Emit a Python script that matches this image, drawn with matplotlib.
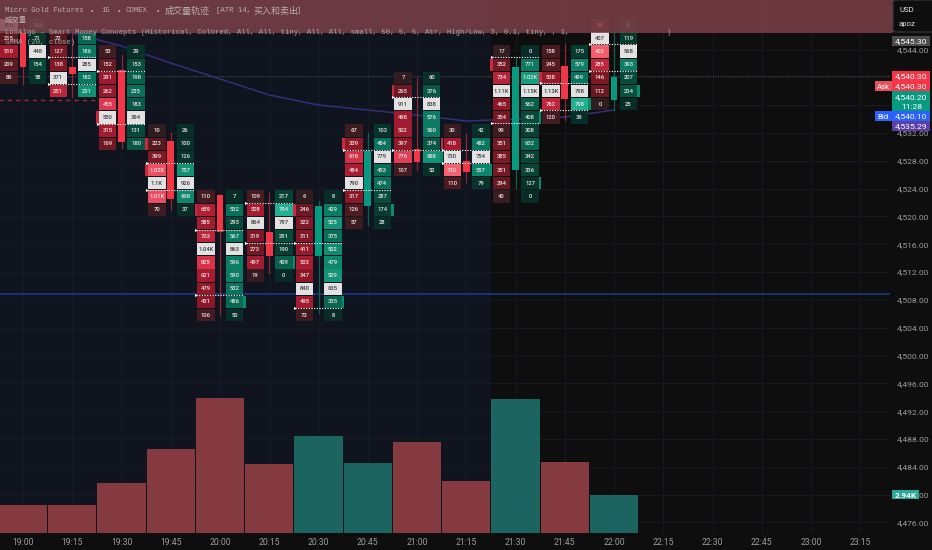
import matplotlib
matplotlib.use('Agg')
import matplotlib.pyplot as plt
from matplotlib.colors import LinearSegmentedColormap
from matplotlib.patches import Rectangle, FancyBboxPatch

# ---- data
times = ['19:00','19:15','19:30','19:45','20:00','20:15','20:30','20:45','21:00','21:15','21:30','21:45','22:00',
         '22:15','22:30','22:45','23:00','23:15']
opens  = [4546.37,4541.48,4541.05,4530.85,4523.08,4517.76,4514.31,4521.50,4529.70,4527.97,4526.68,4541.63,4536.74]
closes = [4541.48,4540.48,4530.70,4522.51,4517.76,4514.31,4521.50,4529.41,4527.83,4526.39,4541.48,4536.88,4540.05]
highs  = [4547.52,4546.52,4543.21,4532.00,4523.20,4523.37,4522.22,4532.00,4539.90,4531.85,4542.92,4544.79,4546.52]
lows   = [4539.04,4537.17,4529.84,4520.93,4505.83,4511.87,4506.12,4518.77,4526.68,4524.95,4524.09,4533.87,4535.30]
volumes = [2140,2160,3820,6420,10300,5270,7410,5350,6950,3970,10240,5420,2940]
sma_idx = [1,2,3,4,5,6,7,8,9,10,11,12]
sma_vals = [4546.37,4544.50,4542.06,4539.76,4537.46,4536.02,4535.30,4534.58,4533.72,4534.01,4534.30,4535.30]

# footprint rows, top to bottom, first_level = index of top row on the price ladder
first_level = [0,1,2,8,13,13,13,8,4,8,2,2,0]
sell_vals = [
    [906,215,510,209,89],
    [72,127,138,371,251],
    [53,152,291,262,455,550,315,169],
    [10,223,399,1020,1100,1010,70],
    [110,659,585,703,1040,825,621,479,431,106],
    [109,508,864,319,273,497,19],
    [6,246,322,311,411,503,347,840,495,73],
    [67,339,618,484,790,317,126,57],
    [7,265,911,498,502,397,776,107],
    [30,418,730,730,110],
    [17,352,734,1110,465,354,99,351,385,351,294,40],
    [158,245,538,1130,782,120],
    [58,407,402,285,146,112,0],
]
buy_vals = [
    [134,71,448,154,58],
    [158,186,285,182,231],
    [29,153,198,235,183,394,131,180],
    [26,100,126,757,926,698,37],
    [7,532,293,567,863,596,590,532,486,50],
    [217,794,797,291,190,409,0],
    [8,429,525,375,502,479,529,635,335,8],
    [103,484,779,453,474,287,174,28],
    [60,376,838,576,560,374,688,52],
    [42,482,754,557,79],
    [0,771,1020,1150,562,408,308,632,342,336,127,0],
    [175,579,499,798,798,39],
    [0,119,568,393,207,234,25],
]
imbalance = [[],[4542.92,4539.04],[4540.95,4533.29],[4527.68,4523.80],[4518.05,4508.71],[4521.93,4516.18],
             [4516.18,4506.84],[4529.55,4523.80],[4537.17,4529.55],[4529.55,4527.68],[4542.92,4533.43],
             [4539.18,4535.30],[4544.79,4540.91]]
sell_marks = [[],[],[7],[9,11],[14],[],[14],[9],[5],[9],[3],[4],[]]
buy_marks  = [[],[],[],[],[21],[18],[21],[14],[10],[11],[7,12],[6],[5]]

price_ticks = [4544-4*i for i in range(18)]
hidden_ticks = [4540, 4536]     # sit behind the price tags
ladder_top = 4547.5
ladder_step = 1.895
last_price = 4540.2
blue_level = 4508.9
red_level = 4536.74

NAVY = '#10141f'
BLACK = '#0e0e0e'
RED = '#f23645'
TEAL = '#089981'
GRID = '#181c27'
AXIS_TXT = '#9c9c9c'
MONO = ['Liberation Mono', 'Noto Sans CJK SC']

sell_cmap = LinearSegmentedColormap.from_list('s', ['#301d20','#551a20','#8a1826','#a81c30','#d8324a','#f7606e'])
buy_cmap  = LinearSegmentedColormap.from_list('b', ['#072c27','#063a2e','#06503e','#08705a','#0e8f72','#22b093'])

def vol_label(v):
    if v >= 1000:
        return f'{v/1000:.2f}'.rstrip('0').rstrip('.') + 'K'
    return str(v)

fig = plt.figure(figsize=(9.32, 5.5), dpi=100, facecolor=BLACK)
rect = [0, 17/550, 890/932, 533/550]
ax = fig.add_axes(rect, facecolor=NAVY)
ax.set_xlim(-23/49.25, (890-23)/49.25)
ax.set_ylim(4474.49, 4551.12)
ax.set_axisbelow(True)

ax.axvspan(9.5, 20, color=BLACK, lw=0, zorder=0)
ax.grid(True, color=GRID, lw=0.6)
for s in ax.spines.values():
    s.set_visible(False)

ax.set_xticks(range(len(times)))
ax.set_xticklabels(times, fontsize=6.2, color=AXIS_TXT, family='Roboto')
ax.yaxis.tick_right()
ax.set_yticks(price_ticks)
ax.set_yticklabels(['' if p in hidden_ticks else f'{p:,.2f}' for p in price_ticks], fontsize=6.1, color=AXIS_TXT, family='Roboto')
ax.tick_params(axis='both', length=0)
ax.tick_params(axis='x', pad=3.5)
ax.tick_params(axis='y', pad=5)

ax.axhline(blue_level, color='#1c3a94', lw=1.1, zorder=1.2)
ax.plot([-1, 1.5], [red_level, red_level], color='#9c2a3a', lw=1, ls=(0, (3, 3)), zorder=1.2)
ax.axhline(last_price, color='#5a6a62', lw=0.6, ls=(0, (1, 2)), zorder=1.2)
ax.plot(sma_idx, sma_vals, color='#33307a', lw=1.1, zorder=1.3)

cell_w = 17.5/49.25
cell_h = ladder_step*0.93
for i in range(len(opens)):
    sell = sell_vals[i]
    buy = buy_vals[i]
    for side, vals, cmap, off in [(0, sell, sell_cmap, -0.284), (1, buy, buy_cmap, 0.295)]:
        top = max(vals)
        poc = vals.index(top)
        for r, v in enumerate(vals):
            y = ladder_top - ladder_step*(first_level[i]+r)
            is_poc = r == poc
            col = '#e2e2e2' if is_poc else cmap(v/top)
            ax.bar(i+off, cell_h, cell_w, bottom=y-cell_h/2, color=col, lw=0, zorder=2)
            ax.text(i+off, y, vol_label(v), ha='center', va='center', fontsize=4.2, family='Roboto',
                    fontweight='medium', color='#3a3a3a' if is_poc else '#f0e6e6', zorder=3)
    # small side bars next to strongest imbalance rows
    for k in sell_marks[i]:
        y = ladder_top - ladder_step*k
        ax.bar(i-0.49, cell_h, 0.05, bottom=y-cell_h/2, color='#c92a3e', lw=0, zorder=2)
    for k in buy_marks[i]:
        y = ladder_top - ladder_step*k
        ax.bar(i+0.50, cell_h, 0.05, bottom=y-cell_h/2, color='#0b8a70', lw=0, zorder=2)
    for lv in imbalance[i]:
        ax.plot([i-0.48, i+0.48], [lv, lv], color='white', lw=0.8, ls=(0, (1, 1.4)), zorder=4)
        ax.plot([i-0.48], [lv], marker='>', ms=2.2, color='white', mew=0, zorder=4)
    col = RED if closes[i] < opens[i] else TEAL
    ax.plot([i, i], [lows[i], highs[i]], color=col, lw=0.9, alpha=0.55, zorder=2.2)
    ax.bar(i, abs(opens[i]-closes[i]), 0.14, bottom=min(opens[i], closes[i]), color=col, lw=0, zorder=2.4)

# top band over everything
ax.add_patch(Rectangle((0, 1-33/533), 1.003, 33/533, transform=ax.transAxes, color='#7d4148', alpha=0.84, lw=0,
                       clip_on=False, zorder=5))

# legend lines, title pieces placed where they sit in the chart
title_parts = [(5, 'Micro Gold Futures', 5.3), (90, '•', 5.3), (101, '15', 5.3), (117, '•', 5.3), (126, 'COMEX', 5.3),
               (156, '•', 5.3), (165, '成交量轨迹', 6.5), (216, '[ATR 14,', 5.3), (253, '买入和卖出', 6.5), (296, ']', 5.3)]
for px, s, fs in title_parts:
    fig.text(px/932, 1-11/550, s, family=MONO, fontsize=fs, color='#b9adad', va='center', zorder=10)
fig.text(5/932, 1-20/550, '成交量', family=MONO, fontsize=5.3, color='#b9adad', va='center', zorder=10)
fig.text(5/932, 1-32/550, 'LuxAlgo - Smart Money Concepts (Historical, Colored, All, All, tiny, All, All, small, 50, 5, 5, Atr, High/Low, 3, 0.1, tiny, , 1,',
         family=MONO, fontsize=5.3, color='#a9a2a2', va='center', zorder=10)
fig.text(667/932, 1-32/550, ')', family=MONO, fontsize=5.3, color='#a9a2a2', va='center', zorder=10)
fig.text(5/932, 1-42/550, 'SMMA (20, close)', family=MONO, fontsize=5.3, color='#a9a2a2', va='center', zorder=10)

# price scale tags
def tag(price, text, color, h=1.44, txt='white'):
    tr = ax.get_yaxis_transform()
    ax.add_patch(Rectangle((1.002, price-h/2), 0.043, h, transform=tr, color=color, lw=0, clip_on=False, zorder=6))
    ax.text(1.024, price, text, transform=tr, ha='center', va='center_baseline', fontsize=6.1, family='Roboto',
            color=txt, clip_on=False, zorder=7)

def side_tag(price, text, color):
    tr = ax.get_yaxis_transform()
    ax.add_patch(Rectangle((0.983, price-0.72), 0.019, 1.44, transform=tr, color=color, lw=0, clip_on=False, zorder=6))
    ax.text(0.9925, price, text, transform=tr, ha='center', va='center_baseline', fontsize=5.6, family='Roboto',
            color='white', zorder=7)

tag(4545.22, '4,545.30', '#4c4c4c')
tag(4540.19, '4,540.30', RED)
tag(4538.75, '4,540.30', RED)
side_tag(4538.75, 'Ask', '#e8505e')
tr = ax.get_yaxis_transform()
ax.add_patch(Rectangle((1.002, 4535.15), 0.043, 2.86, transform=tr, color=TEAL, lw=0, clip_on=False, zorder=6))
ax.text(1.024, 4537.17, '4,540.20', transform=tr, ha='center', va='center_baseline', fontsize=6.1, family='Roboto', color='white', zorder=7)
ax.text(1.024, 4535.88, '11:28', transform=tr, ha='center', va='center_baseline', fontsize=6.1, family='Roboto', color='white', zorder=7)
tag(4534.44, '4,540.10', '#2962ff')
side_tag(4534.44, 'Bid', '#2962ff')
tag(4533.0, '4,535.29', '#5b3ea6')

# volume pane, same width, bars scaled from the bottom
ax_v = fig.add_axes(rect, frameon=False)
ax_v.set_xlim(ax.get_xlim())
ax_v.set_ylim(0, 533*76.4)
ax_v.set_xticks([])
ax_v.set_yticks([])
for i, v in enumerate(volumes):
    c = '#853a3f' if closes[i] < opens[i] else '#1c645f'
    ax_v.bar(i, v, 0.98, color=c, lw=0)
tr2 = ax_v.get_yaxis_transform()
ax_v.add_patch(Rectangle((1.002, volumes[-1]-360), 0.031, 720, transform=tr2, color='#27a899', lw=0, clip_on=False, zorder=6))
ax_v.text(1.0175, volumes[-1], vol_label(volumes[-1]), transform=tr2, ha='center', va='center_baseline', fontsize=6,
          family='Roboto', fontweight='bold', color='white', zorder=7)

# currency / account box
fig.patches.append(FancyBboxPatch((893/932, 1-32/550), 60/932, 32/550, boxstyle='round,pad=0,rounding_size=0.004',
                                  transform=fig.transFigure, fc=BLACK, ec='#3c3c3c', lw=0.8))
fig.text(899/932, 1-10/550, 'USD', fontsize=5.6, family='Roboto', color='#e6e6e6', va='center')
fig.text(899/932, 1-24/550, 'apoz', fontsize=5.6, family='Roboto', color='#d8d8d8', va='center')

plt.savefig('out.png', dpi=100, facecolor=BLACK)
